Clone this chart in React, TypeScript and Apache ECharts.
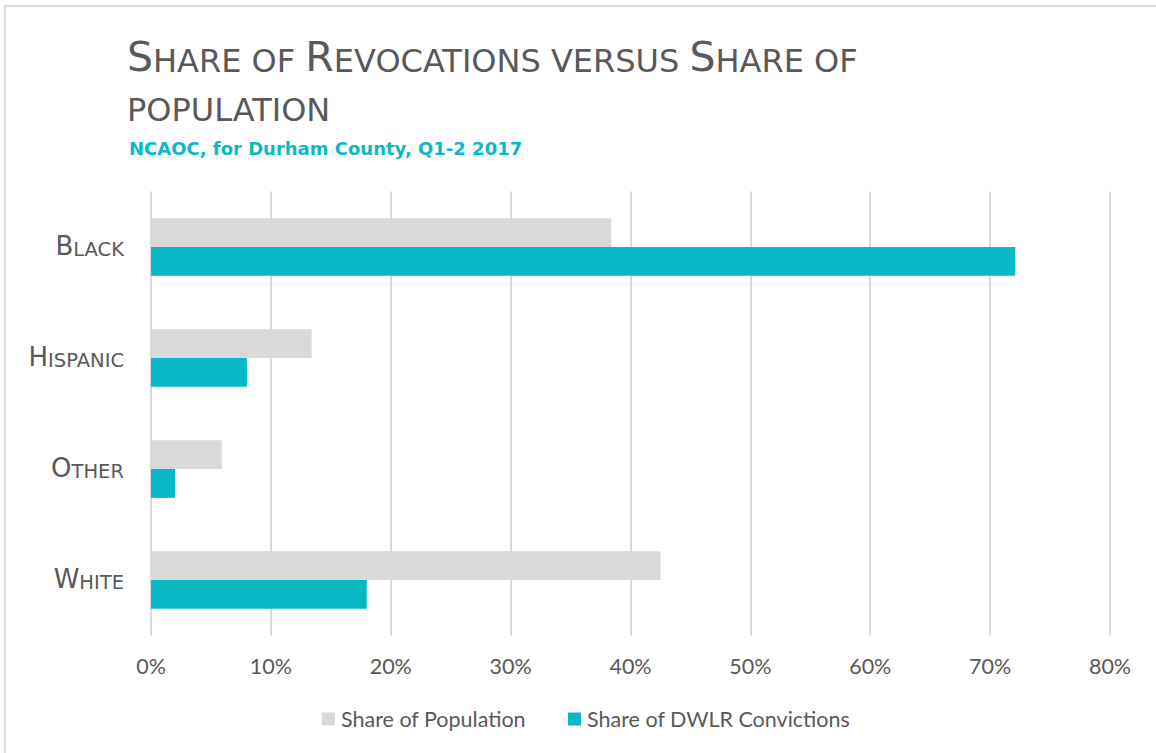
import React, { useEffect, useRef } from "react";
import * as echarts from "echarts";

const categories = ["Black", "Hispanic", "Other", "White"];
const sharePopulation = [0.384, 0.134, 0.059, 0.425];
const shareDWLR = [0.721, 0.08, 0.02, 0.18];
const seriesNames = ["Share of Population", "Share of DWLR Convictions"];
const titleLine1 = "Share of Revocations versus Share of";
const titleLine2 = "population";
const subtitle = "NCAOC, for Durham County, Q1-2 2017";

const GREY = "#d9d9d9";
const TEAL = "#08b9c5";
const TEXT = "#595959";

// Convert text to small caps using rich tokens: uppercase letters -> big, lowercase -> small caps
function smallCaps(s: string, big: string, small: string): string {
  let out = "";
  let cur = "";
  let curType = "";
  for (const ch of s) {
    const isBig = ch !== ch.toLowerCase();
    const t = isBig ? big : small;
    if (t !== curType && cur) {
      out += `{${curType}|${cur}}`;
      cur = "";
    }
    curType = t;
    cur += ch.toUpperCase();
  }
  if (cur) out += `{${curType}|${cur}}`;
  return out;
}

export default function App() {
  const ref = useRef<HTMLDivElement>(null);
  useEffect(() => {
    document.body.style.margin = "0";
    const chart = echarts.init(ref.current!, null, { renderer: "svg" });
    const titleFont = "DejaVu Sans";
    chart.setOption({
      animation: false,
      backgroundColor: "#ffffff",
      graphic: [
        {
          type: "rect",
          shape: { x: 5, y: 6, width: 1300, height: 900 },
          style: { fill: "none", stroke: GREY, lineWidth: 2 },
          silent: true,
        },
      ],
      title: [
        {
          text:
            smallCaps(titleLine1, "b", "s") + "\n" + smallCaps(titleLine2, "b", "s"),
          left: 122,
          top: 23,
          textStyle: {
            fontWeight: "normal",
            rich: {
              b: {
                fontFamily: titleFont,
                fontWeight: "normal",
                fontSize: 41,
                color: TEXT,
                lineHeight: 49,
                verticalAlign: "bottom",
              },
              s: {
                fontFamily: titleFont,
                fontWeight: "normal",
                fontSize: 32,
                color: TEXT,
                lineHeight: 49,
                verticalAlign: "bottom",
              },
            },
          },
        },
        {
          text: subtitle,
          left: 124,
          top: 134,
          textStyle: {
            fontFamily: "DejaVu Sans",
            fontWeight: "bold",
            fontSize: 18,
            color: "#0ab9c4",
          },
        },
      ],
      legend: {
        left: 317,
        top: 703,
        itemWidth: 13,
        itemHeight: 13,
        itemGap: 42,
        icon: "rect",
        textStyle: {
          fontFamily: "Lato",
          fontSize: 21.5,
          color: TEXT,
          padding: [0, 0, 0, 1],
        },
        data: seriesNames,
      },
      grid: { left: 151, right: 46, top: 191.5, bottom: 117.5 },
      xAxis: {
        type: "value",
        min: 0,
        max: 0.8,
        interval: 0.1,
        axisLine: { show: false },
        axisTick: { show: false },
        splitLine: { lineStyle: { color: GREY, width: 2 } },
        axisLabel: {
          margin: 19,
          fontFamily: "Lato",
          fontSize: 21.5,
          color: TEXT,
          formatter: (v: number) => `${Math.round(v * 100)}%`,
        },
      },
      yAxis: {
        type: "category",
        inverse: true,
        data: categories,
        axisLine: { show: false },
        axisTick: { show: false },
        axisLabel: {
          margin: 27,
          formatter: (v: string) => smallCaps(v, "b", "s"),
          rich: {
            b: {
              fontFamily: titleFont,
              fontSize: 26,
              color: TEXT,
              lineHeight: 30,
              verticalAlign: "bottom",
              padding: [0, 0, 3, 0],
            },
            s: {
              fontFamily: titleFont,
              fontSize: 19.5,
              color: TEXT,
              lineHeight: 30,
              verticalAlign: "bottom",
              padding: [0, 0, 3, 0],
            },
          },
        },
      },
      series: [
        {
          name: seriesNames[0],
          type: "bar",
          data: sharePopulation,
          itemStyle: { color: GREY },
          barGap: "0%",
          barCategoryGap: "48%",
        },
        {
          name: seriesNames[1],
          type: "bar",
          data: shareDWLR,
          itemStyle: { color: TEAL },
          barGap: "0%",
          barCategoryGap: "48%",
        },
      ],
    });
    return () => chart.dispose();
  }, []);
  return (
    <div
      ref={ref}
      style={{ position: "absolute", left: 0, top: 0, width: 1156, height: 753 }}
    />
  );
}
